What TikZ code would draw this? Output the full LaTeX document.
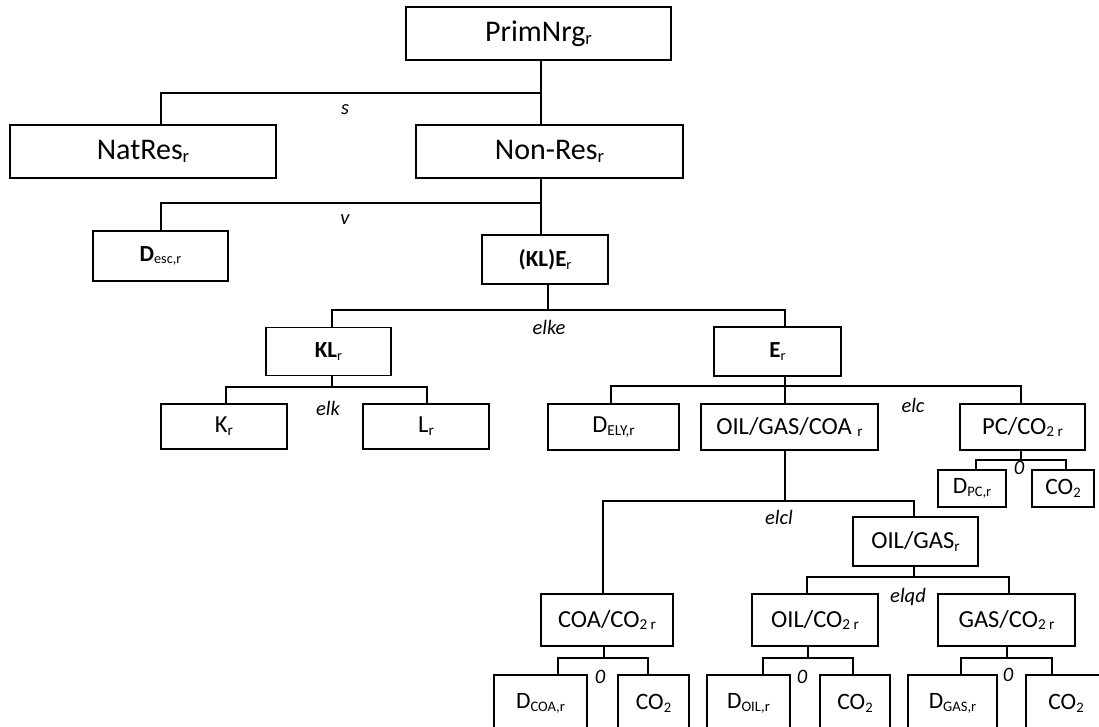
\documentclass[tikz,border=0pt]{standalone}
\usepackage{fontspec}
\setmainfont{Carlito}
\newcommand\sbs[1]{\raisebox{-0.12em}{\scalebox{0.62}{\mdseries #1}}}
\begin{document}
\begin{tikzpicture}[x=1pt,y=-1pt,line width=1.7pt,
  box/.style={draw, rectangle, inner sep=0pt, line width=1.7pt},
  big/.style={box, font=\fontsize{30}{36}\selectfont},
  mid/.style={box, font=\fontsize{24.5}{29}\selectfont},
  bmid/.style={box, font=\fontsize{23}{28}\selectfont},
  leaf/.style={box, font=\fontsize{23.5}{28}\selectfont},
  lab/.style={inner sep=0pt, font=\fontsize{20.5}{24}\selectfont\itshape}]
\useasboundingbox (0,0) rectangle (1099,727);
\clip (0,0) rectangle (1099,727);
% level 1
\node[big, minimum width=265, minimum height=53] (prim) at (538.5,33.5) {PrimNrg\sbs{r}};
\node[big, minimum width=266, minimum height=53] (natres) at (143,151.5) {NatRes\sbs{r}};
\node[big, minimum width=267, minimum height=53] (nonres) at (549.5,151.5) {Non-Res\sbs{r}};
\coordinate (j1) at (541,93);
\coordinate (n1) at (161,93);
\draw (j1 |- prim.south) -- (j1 |- nonres.north);
\draw (n1 |- natres.north) -- (n1) -- (j1);
\node[lab] (ls) at (345,110) {s};
% level 2
\node[bmid, minimum width=135, minimum height=50] (desc) at (160.5,256) {{\bfseries D}\sbs{esc,r}};
\node[bmid, minimum width=126, minimum height=49] (kle) at (545,259.5) {{\bfseries (KL)E}\sbs{r}};
\coordinate (j2) at (541,203);
\coordinate (n2) at (161,203);
\draw (j2 |- nonres.south) -- (j2 |- kle.north);
\draw (n2 |- desc.north) -- (n2) -- (j2);
\node[lab] (lv) at (345,220) {v};
% level 3
\node[bmid, minimum width=125, minimum height=48] (kl) at (328.5,351.5) {{\bfseries KL}\sbs{r}};
\node[bmid, minimum width=127, minimum height=49] (e) at (777.5,351.5) {{\bfseries E}\sbs{r}};
\coordinate (j3) at (548,310);
\coordinate (a3) at (332,310);
\coordinate (b3) at (785,310);
\draw (j3 |- kle.south) -- (j3);
\draw (a3 |- kl.north) -- (a3) -- (b3) -- (b3 |- e.north);
\node[lab] (lelke) at (549,327) {elke};
% KL children
\node[mid, minimum width=126, minimum height=45] (k) at (224,426.5) {K\sbs{r}};
\node[mid, minimum width=126, minimum height=45] (l) at (426,426.5) {L\sbs{r}};
\coordinate (j4) at (332,387);
\coordinate (a4) at (226,387);
\coordinate (b4) at (427,387);
\draw (j4 |- kl.south) -- (j4);
\draw (a4 |- k.north) -- (a4) -- (b4) -- (b4 |- l.north);
\node[lab] (lelk) at (328,408) {elk};
% E children
\node[mid, minimum width=131, minimum height=46] (dely) at (613.5,427) {D\sbs{ELY,r}};
\node[mid, minimum width=177, minimum height=46] (ogc) at (789.5,427) {OIL/GAS/COA \sbs{r}};
\node[mid, minimum width=125, minimum height=46] (pc) at (1022.5,427) {PC/CO\sbs{2 r}};
\coordinate (j5) at (785,386);
\coordinate (a5) at (611,386);
\coordinate (b5) at (1021,386);
\draw (j5 |- e.south) -- (j5 |- ogc.north);
\draw (a5 |- dely.north) -- (a5) -- (b5) -- (b5 |- pc.north);
\node[lab] (lelc) at (913,405) {elc};
% PC children
\node[leaf, minimum width=68, minimum height=37] (dpc) at (972,488.5) {D\sbs{PC,r}};
\node[leaf, minimum width=62, minimum height=37] (co2pc) at (1063,488.5) {CO\sbs{2}};
\coordinate (j6) at (1021,460);
\coordinate (a6) at (976,460);
\coordinate (b6) at (1066,460);
\draw (j6 |- pc.south) -- (j6);
\draw (a6 |- dpc.north) -- (a6) -- (b6) -- (b6 |- co2pc.north);
\node[lab] (l0pc) at (1019,468) {0};
% OIL/GAS/COA children
\node[mid, minimum width=125, minimum height=49] (og) at (915.5,541.5) {OIL/GAS\sbs{r}};
\node[mid, minimum width=132, minimum height=52] (coa) at (607,620) {COA/CO\sbs{2 r}};
\coordinate (j7) at (785,501);
\coordinate (a7) at (603,501);
\coordinate (b7) at (914,501);
\draw (j7 |- ogc.south) -- (j7);
\draw (a7 |- coa.north) -- (a7) -- (b7) -- (b7 |- og.north);
\node[lab] (lelcl) at (779,517) {elcl};
% OIL/GAS children
\node[mid, minimum width=126, minimum height=52] (oil) at (815,620) {OIL/CO\sbs{2 r}};
\node[mid, minimum width=137, minimum height=52] (gas) at (1006.5,620) {GAS/CO\sbs{2 r}};
\coordinate (j8) at (914,577);
\coordinate (a8) at (807,577);
\coordinate (b8) at (1009,577);
\draw (j8 |- og.south) -- (j8);
\draw (a8 |- oil.north) -- (a8) -- (b8) -- (b8 |- gas.north);
\node[lab] (lelqd) at (908,597) {elqd};
% bottom leaves
\node[leaf, minimum width=93, minimum height=56] (dcoa) at (540.5,703) {D\sbs{COA,r}};
\node[leaf, minimum width=71, minimum height=56] (co2a) at (653.5,703) {CO\sbs{2}};
\node[leaf, minimum width=83, minimum height=56] (doil) at (748.5,703) {D\sbs{OIL,r}};
\node[leaf, minimum width=70, minimum height=56] (co2o) at (855,703) {CO\sbs{2}};
\node[leaf, minimum width=89, minimum height=56] (dgas) at (952.5,703) {D\sbs{GAS,r}};
\node[leaf, minimum width=80, minimum height=56] (co2g) at (1066,703) {CO\sbs{2}};
\coordinate (j9) at (604,658);
\coordinate (a9) at (558,658);
\coordinate (b9) at (648,658);
\draw (j9 |- coa.south) -- (j9);
\draw (a9 |- dcoa.north) -- (a9) -- (b9) -- (b9 |- co2a.north);
\node[lab] (l0coa) at (600,677) {0};
\coordinate (j10) at (808,658);
\coordinate (a10) at (763,658);
\coordinate (b10) at (853,658);
\draw (j10 |- oil.south) -- (j10);
\draw (a10 |- doil.north) -- (a10) -- (b10) -- (b10 |- co2o.north);
\node[lab] (l0oil) at (802,677) {0};
\coordinate (j11) at (1007,658);
\coordinate (a11) at (961,658);
\coordinate (b11) at (1052,658);
\draw (j11 |- gas.south) -- (j11);
\draw (a11 |- dgas.north) -- (a11) -- (b11) -- (b11 |- co2g.north);
\node[lab] (l0gas) at (1008,675) {0};
\end{tikzpicture}
\end{document}
